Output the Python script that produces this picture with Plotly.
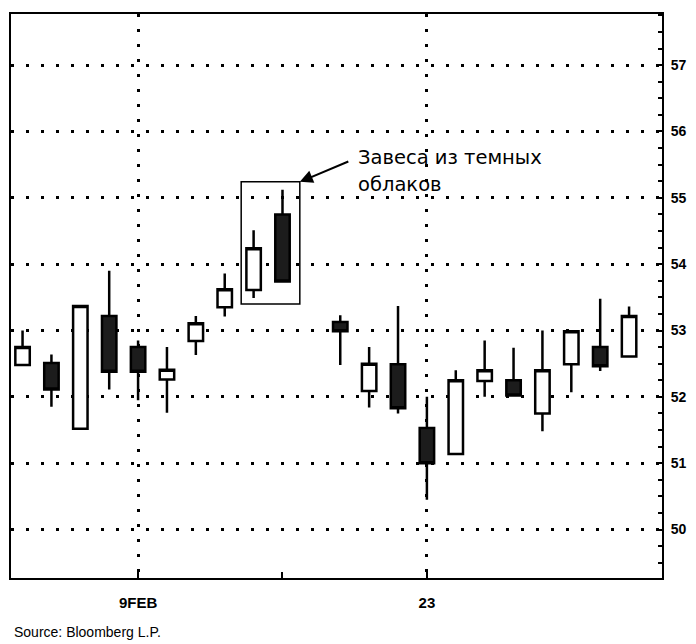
import plotly.graph_objects as go

# trading-day index (0 = 9 FEB, 10 = 23 FEB; index 6 has no session)
day_index = [-4, -3, -2, -1, 0, 1, 2, 3, 4, 5, 7, 8, 9, 10, 11, 12, 13, 14, 15, 16, 17]
opens  = [52.48, 52.51, 51.52, 53.22, 52.75, 52.26, 52.84, 53.35, 53.61, 54.75, 53.13,
          52.09, 52.49, 51.53, 51.14, 52.24, 52.25, 51.75, 52.49, 52.75, 52.61]
highs  = [53.00, 52.64, 53.37, 53.90, 52.85, 52.75, 53.22, 53.86, 54.51, 55.12, 53.23,
          52.75, 53.37, 52.00, 52.40, 52.85, 52.74, 53.00, 52.99, 53.48, 53.36]
lows   = [52.48, 51.85, 51.52, 52.11, 51.95, 51.76, 52.63, 53.21, 53.49, 53.74, 52.48,
          51.84, 51.75, 50.45, 51.14, 52.00, 52.00, 51.48, 52.07, 52.39, 52.61]
closes = [52.75, 52.11, 53.37, 52.38, 52.38, 52.41, 53.11, 53.62, 54.24, 53.74, 52.99,
          52.50, 51.83, 51.00, 52.25, 52.40, 52.02, 52.40, 52.99, 52.46, 53.22]

x_tick_vals = [0, 10]
x_tick_text = ["9FEB", "23"]
y_tick_vals = [50, 51, 52, 53, 54, 55, 56, 57]

pattern_days = [4, 5]          # dark cloud cover candles
label_line1 = "Завеса из темных"
label_line2 = "облаков"
source_text = "Source: Bloomberg L.P."

fig = go.Figure()
fig.add_trace(go.Candlestick(
    x=day_index, open=opens, high=highs, low=lows, close=closes,
    increasing=dict(fillcolor="white", line=dict(color="black", width=2.5)),
    decreasing=dict(fillcolor="#1c1c1c", line=dict(color="black", width=2.5)),
    whiskerwidth=0, showlegend=False, hoverinfo="skip",
))

# rectangle around the pattern, derived from the data
pi = [day_index.index(d) for d in pattern_days]
bx0 = min(pattern_days) - 0.43
bx1 = max(pattern_days) + 0.60
by0 = min(lows[i] for i in pi) - 0.09
by1 = max(highs[i] for i in pi) + 0.12
fig.add_shape(type="rect", x0=bx0, x1=bx1, y0=by0, y1=by1, xref="x", yref="y",
              line=dict(color="black", width=1.5), fillcolor="rgba(0,0,0,0)")

fig.add_annotation(x=bx1, y=by1, xref="x", yref="y", text="", showarrow=True,
                   ax=50, ay=-21, arrowhead=2, arrowsize=1.3, arrowwidth=2,
                   arrowcolor="black")
fig.add_annotation(x=7.55, y=55.60, xref="x", yref="y", text=label_line1,
                   showarrow=False, xanchor="left", yanchor="middle",
                   font=dict(family="DejaVu Sans", size=19.5, color="black"))
fig.add_annotation(x=7.55, y=55.205, xref="x", yref="y", text=label_line2,
                   showarrow=False, xanchor="left", yanchor="middle",
                   font=dict(family="DejaVu Sans", size=19.5, color="black"))
fig.add_annotation(x=0, y=0, xref="paper", yref="paper", text=source_text,
                   showarrow=False, xanchor="left", yanchor="middle",
                   xshift=1, yshift=-54,
                   font=dict(family="Liberation Sans", size=14, color="black"))

grid_dash = "3px,12px"
fig.update_layout(
    width=696, height=644,
    margin=dict(l=9, r=33, t=14, b=66),
    paper_bgcolor="white", plot_bgcolor="white",
    boxgap=0.5, boxgroupgap=0,
    xaxis=dict(
        range=[-4.40, 18.14], rangeslider=dict(visible=False),
        tickvals=x_tick_vals, ticktext=x_tick_text,
        ticks="inside", ticklen=6, tickwidth=1.5, tickcolor="black",
        showline=True, linecolor="black", linewidth=2, mirror=True,
        showgrid=True, gridcolor="black", gridwidth=3, griddash=grid_dash,
        zeroline=False,
        minor=dict(tickvals=[5], ticks="inside", ticklen=6, tickwidth=1.5,
                   tickcolor="black", showgrid=False),
        tickfont=dict(family="Liberation Sans", size=15, color="black", weight="bold"),
        ticklabelstandoff=10,
    ),
    yaxis=dict(
        side="right", range=[49.27, 57.77],
        tickvals=y_tick_vals,
        ticks="inside", ticklen=6, tickwidth=1.5, tickcolor="black",
        showline=True, linecolor="black", linewidth=2, mirror=True,
        showgrid=True, gridcolor="black", gridwidth=3, griddash=grid_dash,
        zeroline=False,
        minor=dict(dtick=0.25, ticks="inside", ticklen=4, tickwidth=1.5,
                   tickcolor="black", showgrid=False),
        tickfont=dict(family="Liberation Sans", size=14, color="black", weight="bold"),
        ticklabelstandoff=4,
    ),
)

fig.write_html("out.html",
               config={"displayModeBar": False},
               post_script="document.body.style.margin='0px';"
                           "document.body.style.overflow='hidden';")
